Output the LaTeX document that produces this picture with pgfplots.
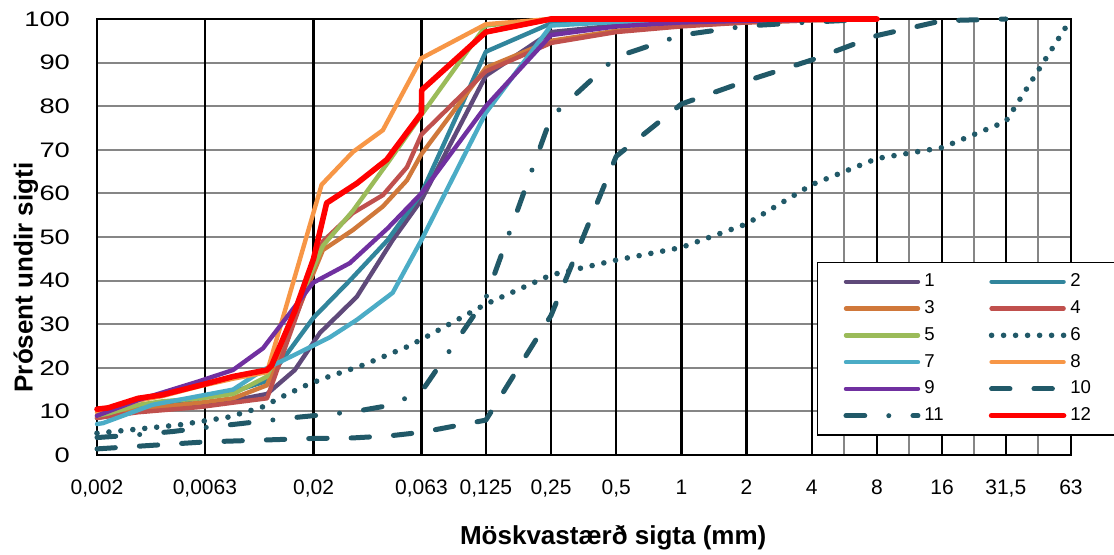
\documentclass[border=0pt]{standalone}
\usepackage{pgfplots}
\pgfplotsset{compat=1.18}
\usepackage{fontspec}
\setmainfont{Liberation Sans}
\newfontfamily\widefont{Liberation Sans}[FakeStretch=1.3]

\definecolor{s1}{HTML}{5F497A}
\definecolor{s2}{HTML}{31859C}
\definecolor{s3}{HTML}{D0783A}
\definecolor{s4}{HTML}{C0504D}
\definecolor{s5}{HTML}{9BBB59}
\definecolor{s7}{HTML}{4BACC6}
\definecolor{s8}{HTML}{F79646}
\definecolor{s9}{HTML}{7030A0}
\definecolor{dk}{HTML}{215968}
\definecolor{gridgray}{HTML}{868686}

\begin{document}
\begin{tikzpicture}
\useasboundingbox (-48.5pt,-50pt) rectangle (508.5pt,227.5pt);
\begin{axis}[
    at={(0pt,0pt)}, anchor=south west,
    scale only axis, width=487pt, height=218pt,
    xmode=log, xmin=0.002, xmax=63, ymin=0, ymax=100,
    clip=false,
    axis line style={black, line width=1.4pt},
    major tick length=0pt, minor tick length=0pt,
    xtick={0.002,0.0063,0.02,0.063,0.125,0.25,0.5,1,2,4,8,16,31.5,63},
    xticklabels={{0,002},{0,0063},{0,02},{0,063},{0,125},{0,25},{0,5},1,2,4,8,16,{31,5},63},
    extra x ticks={0.0063,0.02,0.063,0.125,0.25,0.5,1,2,4,8,16,31.5},
    extra x tick labels={},
    extra x tick style={grid=major, major grid style={black, line width=1.2pt}},
    minor xtick={5.66,11.3,22.4,44.5},
    xminorgrids=true,
    minor grid style={gridgray, line width=1pt},
    ytick={0,10,...,100},
    ymajorgrids=true,
    major grid style={gridgray, line width=1pt},
    /pgf/number format/assume math mode=true,
    xticklabel style={font=\fontsize{10.5}{12}\selectfont, yshift=-9pt},
    yticklabel style={font=\fontsize{10.5}{12}\widefont, xshift=-10pt},
    xlabel={Möskvastærð sigta (mm)},
    ylabel={Prósent undir sigti},
    label style={font=\fontsize{13}{15}\selectfont\bfseries},
    xlabel style={at={(axis description cs:0.530,-0.190)}, anchor=center},
    ylabel style={at={(axis description cs:-0.073,0.407)}, anchor=center},
    legend columns=2,
    legend cell align=left,
    legend image code/.code={\draw[#1] (0pt,0pt) -- (36pt,0pt);},
    legend style={at={(axis description cs:0.739,0.443)}, anchor=north west,
        draw=black, line width=0.7pt, fill=white,
        font=\fontsize{9.3}{10}\selectfont,
        inner xsep=13pt, inner ysep=3.6pt, row sep=1.4pt,
        /tikz/every even column/.append style={column sep=20.5pt}},
    every axis plot/.append style={line join=round, line cap=round},
]

% 1
\addplot[s1, line width=2.2pt] coordinates {
    (0.002,8.5) (0.0031,10) (0.006,11.5) (0.0085,12.5) (0.0122,14)
    (0.0164,19.5) (0.0214,28) (0.0317,36.3) (0.0464,49.3) (0.063,58.5)
    (0.125,87) (0.25,97) (0.5,98.5) (1,99.3) (2,99.7) (8,100)};
\addlegendentry{1}
% 2
\addplot[s2, line width=2.2pt] coordinates {
    (0.002,8.5) (0.0031,11) (0.006,13) (0.0085,14.5) (0.0122,17)
    (0.02,31.5) (0.0294,40) (0.044,49.3) (0.063,60) (0.125,92.5)
    (0.25,99) (0.5,99.5) (1,99.8) (8,100)};
\addlegendentry{2}
% 3
\addplot[s3, line width=2.2pt] coordinates {
    (0.002,9) (0.0031,10.5) (0.006,12) (0.0085,13) (0.0122,16)
    (0.0221,47) (0.0304,51.6) (0.0418,57) (0.054,63) (0.063,69)
    (0.125,88.8) (0.25,95) (0.5,97.3) (1,98.5) (2,99.2) (4,99.7) (8,100)};
\addlegendentry{3}
% 4
\addplot[s4, line width=2.2pt] coordinates {
    (0.002,8.5) (0.0031,9.8) (0.006,11) (0.0085,12) (0.0122,13)
    (0.0221,49) (0.0304,55.5) (0.0418,59.6) (0.054,66) (0.063,73.5)
    (0.125,88) (0.25,94.5) (0.5,97) (1,98.3) (2,99.2) (4,99.7) (8,100)};
\addlegendentry{4}
% 5
\addplot[s5, line width=2.2pt] coordinates {
    (0.002,9) (0.00225,9.5) (0.0031,11.5) (0.004,12.3) (0.006,13)
    (0.0085,14) (0.0122,18) (0.0221,48) (0.0304,56) (0.044,67)
    (0.063,78) (0.125,98.5) (0.25,100) (8,100)};
\addlegendentry{5}
% 6
\addplot[dk, line width=2.8pt, dash pattern=on 0pt off 6pt] coordinates {
    (0.002,5) (0.0048,6.9) (0.0081,8.7) (0.0116,11) (0.0145,13.5)
    (0.0187,16.1) (0.0233,17.9) (0.0338,20.6) (0.054,24.8) (0.063,26.5)
    (0.125,34.6) (0.25,41.3) (0.5,44.7) (1,47.6) (2,53) (4,62)
    (8,68) (16,70.5) (31.5,76.5) (63,100)};
\addlegendentry{6}
% 7
\addplot[s7, line width=2.2pt] coordinates {
    (0.002,7.1) (0.00213,7.3) (0.0036,11.5) (0.0085,15) (0.0117,19.5)
    (0.0164,23) (0.0238,27) (0.0317,31) (0.0464,37.2) (0.063,49.3)
    (0.125,78.5) (0.25,98.5) (0.5,99.3) (1,99.7) (8,100)};
\addlegendentry{7}
% 8
\addplot[s8, line width=2.2pt] coordinates {
    (0.002,9.8) (0.00225,10.2) (0.0031,12.5) (0.004,13.5) (0.006,15.8)
    (0.0085,17.5) (0.0122,19) (0.0218,62) (0.0304,69.5) (0.0418,74.5)
    (0.063,91) (0.125,98.8) (0.25,100) (8,100)};
\addlegendentry{8}
% 9
\addplot[s9, line width=2.2pt] coordinates {
    (0.002,9) (0.0031,12.6) (0.006,17) (0.0085,19.5) (0.0117,24.5)
    (0.0199,39.5) (0.0294,44) (0.044,52) (0.063,60) (0.125,80)
    (0.25,96.3) (0.5,98.3) (1,99.2) (2,99.6) (8,100)};
\addlegendentry{9}
% 10
\addplot[dk, line width=2.5pt, dash pattern=on 9.2pt off 12pt] coordinates {
    (0.002,1.4) (0.0063,3) (0.02,3.8) (0.03,3.9) (0.045,4.4) (0.063,5.2)
    (0.125,8) (0.25,32) (0.5,68.5) (1,80.5) (2,85.8) (4,90.6)
    (8,96.2) (16,99.6) (31.5,100)};
\addlegendentry{10}
% 11
\addplot[dk, line width=2.5pt, dash pattern=on 9.4pt off 12pt on 0pt off 12.1pt] coordinates {
    (0.002,4) (0.003,4.6) (0.0045,5.4) (0.0063,6.3) (0.0085,7)
    (0.0128,8) (0.0164,8.6) (0.0304,9.9) (0.044,11.3) (0.063,14.5)
    (0.125,36) (0.25,77.5) (0.5,91.3) (1,96.3) (2,98.4) (4,99.3) (8,100)};
\addlegendentry{11}
% 12
\addplot[red, line width=2.8pt] coordinates {
    (0.002,10.5) (0.00225,10.8) (0.0031,13) (0.004,13.8) (0.006,16)
    (0.0085,18) (0.0122,19.5) (0.0128,20.5) (0.0164,33) (0.02,45)
    (0.023,57.8) (0.0317,62.3) (0.0435,67.7) (0.063,78.4) (0.0632,83.7)
    (0.125,97) (0.25,100) (8,100)};
\addlegendentry{12}

\end{axis}
\end{tikzpicture}
\end{document}
